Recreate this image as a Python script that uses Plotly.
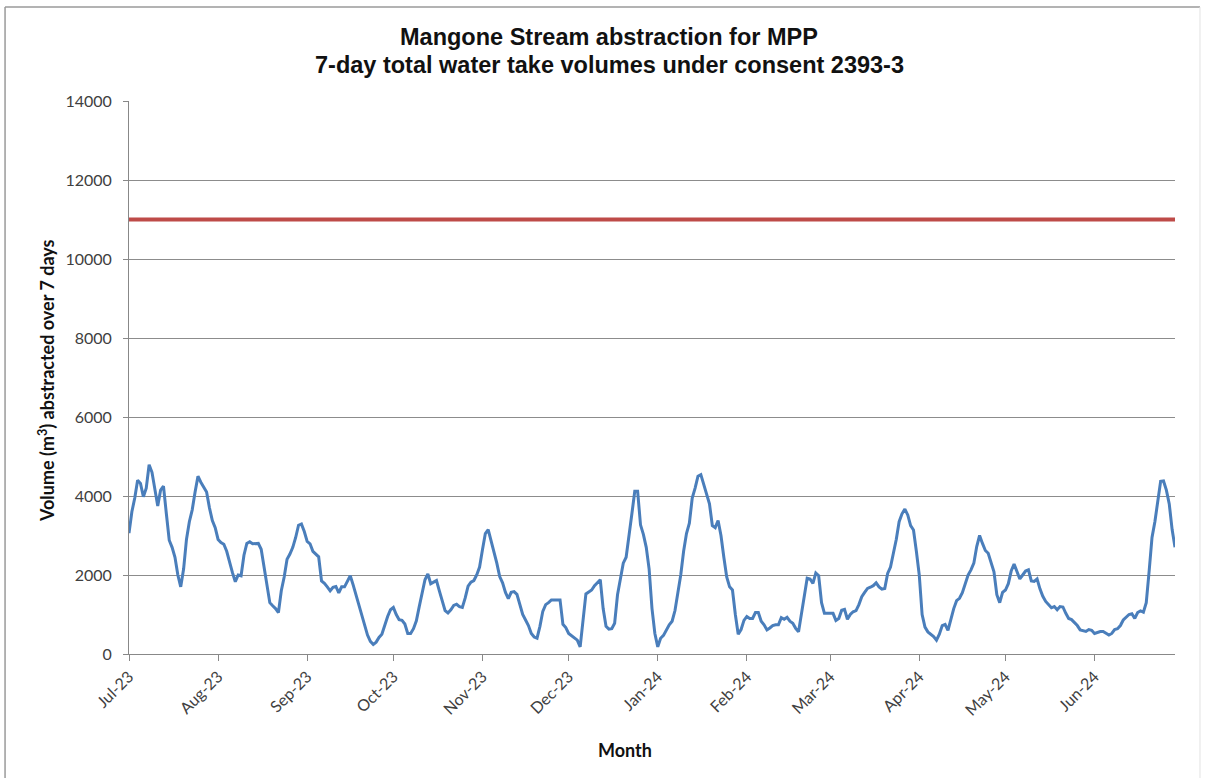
import pandas as pd
import plotly.graph_objects as go

# ---- data -------------------------------------------------------------
start_date = "2023-07-01"
end_date = "2024-06-29"
consent_limit = 11000  # m3 per 7 days

# 7-day total volumes (m3), one value per day starting 2023-07-01
volumes = [
    3060, 3600, 3950, 4400, 4320, 3980, 4200, 4790, 4600, 4150,
    3750, 4150, 4250, 3550, 2880, 2700, 2450, 2000, 1700, 2150,
    2900, 3350, 3650, 4100, 4500, 4350, 4230, 4100, 3700, 3380,
    3200, 2900, 2820, 2780, 2600, 2300, 2060, 1830, 2000, 1980,
    2500, 2800, 2840, 2790, 2800, 2800, 2650, 2200, 1700, 1300,
    1220, 1150, 1050, 1600, 1950, 2400, 2530, 2700, 2950, 3260,
    3290, 3100, 2850, 2790, 2600, 2520, 2460, 1850, 1790, 1700,
    1600, 1690, 1710, 1550, 1700, 1700, 1850, 1980, 1750, 1500,
    1280, 1030, 740, 480, 320, 240, 300, 420, 500, 750,
    950, 1120, 1180, 1000, 870, 850, 760, 520, 520, 640,
    840, 1200, 1560, 1880, 2030, 1780, 1820, 1860, 1600, 1330,
    1100, 1040, 1120, 1230, 1260, 1200, 1180, 1420, 1720, 1820,
    1860, 2000, 2200, 2640, 3050, 3150, 2870, 2620, 2300, 1960,
    1800, 1560, 1400, 1560, 1580, 1510, 1250, 1000, 860, 720,
    520, 430, 400, 700, 1080, 1250, 1300, 1370, 1370, 1370,
    1370, 750, 670, 520, 470, 420, 350, 180, 860, 1520,
    1570, 1620, 1730, 1800, 1880, 1150, 700, 630, 640, 780,
    1500, 1900, 2300, 2450, 2950, 3550, 4120, 4120, 3270, 3030,
    2700, 2150, 1150, 520, 180, 400, 470, 600, 740, 830,
    1100, 1550, 2000, 2600, 3050, 3310, 3950, 4200, 4500, 4540,
    4300, 4100, 3800, 3250, 3200, 3380, 3000, 2450, 1950, 1700,
    1620, 1000, 500, 620, 850, 950, 900, 900, 1050, 1050,
    830, 740, 610, 660, 720, 740, 740, 920, 880, 930,
    830, 780, 650, 560, 1030, 1520, 1920, 1900, 1790, 2050,
    1980, 1300, 1030, 1030, 1030, 1030, 850, 900, 1110, 1130,
    880, 1000, 1070, 1100, 1250, 1450, 1560, 1660, 1690, 1730,
    1800, 1700, 1640, 1660, 2040, 2200, 2550, 2900, 3350, 3550,
    3670, 3520, 3250, 3140, 2600, 2000, 1000, 680, 560, 500,
    440, 350, 500, 720, 750, 600, 900, 1150, 1350, 1410,
    1550, 1750, 2000, 2130, 2300, 2720, 3000, 2800, 2620, 2550,
    2340, 2080, 1500, 1300, 1560, 1620, 1780, 2100, 2280, 2080,
    1900, 2000, 2100, 2130, 1850, 1840, 1900, 1650, 1460, 1330,
    1240, 1170, 1200, 1120, 1200, 1190, 1030, 900, 870, 800,
    720, 610, 580, 570, 620, 600, 520, 550, 570, 570,
    530, 480, 520, 620, 640, 720, 860, 930, 1000, 1020,
    900, 1050, 1090, 1060, 1300, 2100, 2950, 3350, 3900, 4370,
    4380, 4150, 3800, 3150, 2700,
]

y_ticks = [0, 2000, 4000, 6000, 8000, 10000, 12000, 14000]
y_tick_labels = ["0", "2000", "4000", "6000", "8000", "10000", "12000", "14000"]

title_line1 = "Mangone Stream abstraction for MPP"
title_line2 = "7-day total water take volumes under consent 2393-3"
y_title = "Volume (m<sup>3</sup>) abstracted over 7 days"
x_title = "Month"

# ---- figure -----------------------------------------------------------
dates = pd.date_range(start_date, periods=len(volumes), freq="D")

fig = go.Figure()
fig.add_trace(go.Scatter(
    x=[start_date, end_date], y=[consent_limit, consent_limit],
    mode="lines", line=dict(color="#BE4B48", width=4),
    hoverinfo="skip", showlegend=False,
))
fig.add_trace(go.Scatter(
    x=dates, y=volumes, mode="lines",
    line=dict(color="#4A7EBB", width=3),
    showlegend=False,
))

sans = "Lato, 'Open Sans', sans-serif"
tick_font = dict(family=sans, size=16, color="#404040")
title_font = dict(family="Liberation Sans, Arial, sans-serif", size=23.5, color="#111111")

fig.update_layout(
    width=1206, height=778,
    margin=dict(l=129, r=31, t=101, b=124, pad=0),
    paper_bgcolor="white", plot_bgcolor="white",
    xaxis=dict(
        type="date",
        range=[start_date, end_date],
        tick0=start_date, dtick="M1", tickformat="%b-%y",
        tickangle=-45, tickfont=tick_font,
        ticks="outside", ticklen=6, tickcolor="#888888", tickwidth=1,
        showline=True, linecolor="#888888", linewidth=1,
        showgrid=False, zeroline=False,
    ),
    yaxis=dict(
        range=[0, 14000], tickvals=y_ticks, ticktext=y_tick_labels,
        tickfont=tick_font,
        ticks="outside", ticklen=5, tickcolor="#888888", tickwidth=1,
        ticklabelstandoff=8,
        showline=True, linecolor="#888888", linewidth=1,
        showgrid=True, gridcolor="#8C8C8C", gridwidth=1,
        zeroline=False,
    ),
    annotations=[
        dict(text="<b>" + title_line1 + "</b>",
             xref="paper", yref="paper", x=0.4589, y=1.1157,
             xanchor="center", yanchor="middle", showarrow=False,
             font=title_font),
        dict(text="<b>" + title_line2 + "</b>",
             xref="paper", yref="paper", x=0.4589, y=1.0651,
             xanchor="center", yanchor="middle", showarrow=False,
             font=title_font),
        dict(text="<b>" + y_title + "</b>", textangle=-90,
             xref="paper", yref="paper", x=-0.0786, y=0.495,
             xanchor="center", yanchor="middle", showarrow=False,
             font=dict(family=sans, size=18, color="#111111")),
        dict(text="<b>" + x_title + "</b>",
             xref="paper", yref="paper", x=0.4742, y=-0.174,
             xanchor="center", yanchor="middle", showarrow=False,
             font=dict(family=sans, size=18, color="#111111")),
    ],
    shapes=[
        dict(type="line", xref="paper", yref="paper",
             x0=-0.1185, x1=1.0239, y0=1.170, y1=1.170,
             line=dict(color="#9A9A9A", width=1.5), layer="below"),
        dict(type="line", xref="paper", yref="paper",
             x0=-0.1185, x1=-0.1185, y0=-0.3, y1=1.170,
             line=dict(color="#9A9A9A", width=1.5), layer="below"),
        dict(type="line", xref="paper", yref="paper",
             x0=1.0239, x1=1.0239, y0=-0.3, y1=1.170,
             line=dict(color="#E2E2E2", width=1), layer="below"),
    ],
)

fig.write_html("out.html", config={"displayModeBar": False},
               post_script="document.body.style.margin='0';")
